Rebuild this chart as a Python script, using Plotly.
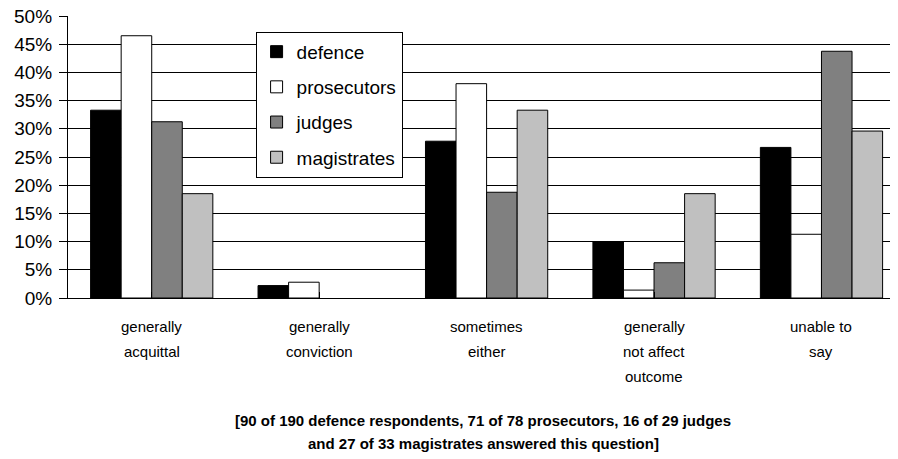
import plotly.graph_objects as go

# answer categories (axis labels) and share of each respondent group, in %
categories = ["generally<br>acquittal", "generally<br>conviction", "sometimes<br>either",
              "generally<br>not affect<br>outcome", "unable to<br>say"]
defence = [33.3, 2.2, 27.8, 10.0, 26.7]
prosecutors = [46.5, 2.8, 38.0, 1.4, 11.3]
judges = [31.25, 0, 18.75, 6.25, 43.75]
magistrates = [18.5, 0, 33.3, 18.5, 29.6]

caption_lines = ["[90 of 190 defence respondents, 71 of 78 prosecutors, 16 of 29 judges",
                 "and 27 of 33 magistrates answered this question]"]

y_max = 50

font = "Liberation Sans, Arial, sans-serif"
xs = list(range(len(categories)))

fig = go.Figure()
series = [("defence", defence, "#000000"),
          ("prosecutors", prosecutors, "#ffffff"),
          ("judges", judges, "#808080"),
          ("magistrates", magistrates, "#c0c0c0")]
for name, vals, col in series:
    fig.add_trace(go.Bar(
        x=xs, y=vals, name=name, legendgroup=name,
        marker=dict(color=col,
                    line=dict(color="black", width=[0 if v == 0 else 1 for v in vals])),
    ))

# page body has an 8px margin, so the figure is 8px smaller each way
fig.update_layout(
    width=890, height=451,
    margin=dict(l=60, r=0, t=8, b=161),
    paper_bgcolor="white", plot_bgcolor="white",
    barmode="group", bargap=0.27, bargroupgap=0,
    font=dict(family=font, color="black"),
    showlegend=True,
    legend=dict(x=0.226, y=0.944, xanchor="left", yanchor="top",
                bordercolor="black", borderwidth=1, bgcolor="white",
                font=dict(size=19), tracegroupgap=7.5, traceorder="grouped"),
)

fig.update_yaxes(range=[0, y_max], dtick=5, ticksuffix="%",
                 showgrid=True, gridcolor="black", gridwidth=1,
                 showline=True, linecolor="black", linewidth=1,
                 ticks="outside", ticklen=8, tickcolor="black",
                 ticklabelstandoff=3, tickfont=dict(size=19),
                 zeroline=False, fixedrange=True)

# the top tick label gets dropped by plotly (too close to the page edge), so add it by hand
fig.add_annotation(text=f"{y_max}%", x=0, xref="paper", y=y_max, yref="y",
                   xanchor="right", yanchor="middle", xshift=-15,
                   height=14, valign="middle", borderpad=0,
                   showarrow=False, font=dict(size=19, family=font))

fig.update_xaxes(range=[-0.5, 4.457],
                 tickmode="array", tickvals=xs, ticktext=[""] * len(xs),
                 showline=True, linecolor="black", linewidth=1,
                 ticks="inside", ticklen=6, tickcolor="black", tickson="boundaries",
                 showgrid=False, zeroline=False)

# category labels, one line at a time (wider line spacing than plotly's default)
for i, label in enumerate(categories):
    for k, line in enumerate(label.split("<br>")):
        fig.add_annotation(text=line, x=i, xref="x", y=0, yref="paper",
                           yanchor="middle", yshift=-28 - 25 * k,
                           showarrow=False, font=dict(size=15, family=font))

for k, line in enumerate(caption_lines):
    fig.add_annotation(text="<b>" + line + "</b>", xref="paper", yref="paper",
                       x=0.5, y=0, xanchor="center", yanchor="middle",
                       yshift=-122 - 23 * k,
                       showarrow=False, font=dict(size=15, family=font))

fig.write_html("out.html")
